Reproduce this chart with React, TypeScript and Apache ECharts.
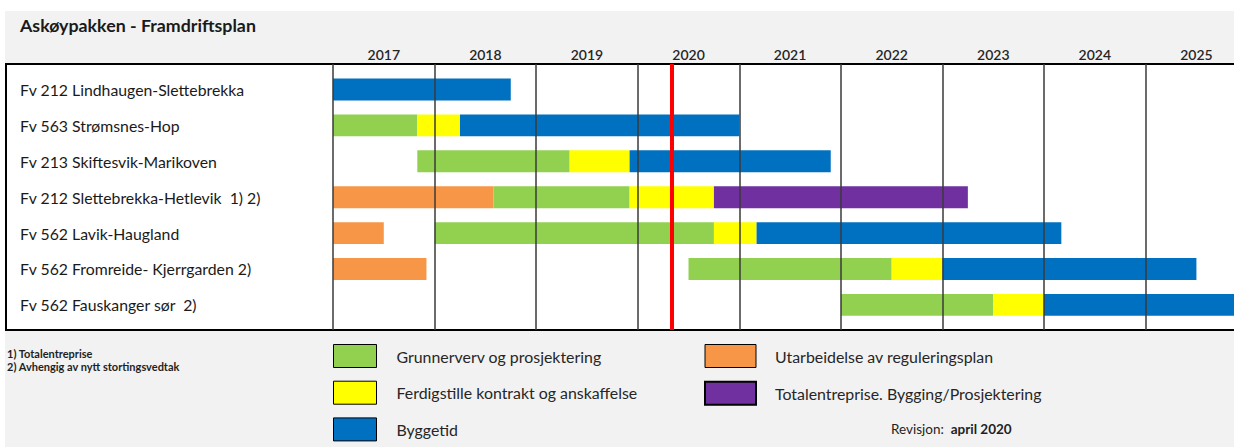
import React, { useEffect, useRef } from "react";
import * as echarts from "echarts";

const years = [2017, 2018, 2019, 2020, 2021, 2022, 2023, 2024, 2025];
const rows = [
  "Fv 212 Lindhaugen-Slettebrekka",
  "Fv 563 Strømsnes-Hop",
  "Fv 213 Skiftesvik-Marikoven",
  "Fv 212 Slettebrekka-Hetlevik  1) 2)",
  "Fv 562 Lavik-Haugland",
  "Fv 562 Fromreide- Kjerrgarden 2)",
  "Fv 562 Fauskanger sør  2)",
];

// [rowIndex, start, end]
const grunnerverv = [
  [1, 2017.0, 2017.83],
  [2, 2017.83, 2019.33],
  [3, 2018.58, 2019.92],
  [4, 2018.0, 2020.75],
  [5, 2020.5, 2022.5],
  [6, 2022.0, 2023.5],
];
const ferdigstille = [
  [1, 2017.83, 2018.25],
  [2, 2019.33, 2019.92],
  [3, 2019.92, 2020.75],
  [4, 2020.75, 2021.17],
  [5, 2022.5, 2023.0],
  [6, 2023.5, 2024.0],
];
const byggetid = [
  [0, 2017.0, 2018.75],
  [1, 2018.25, 2021.0],
  [2, 2019.92, 2021.9],
  [4, 2021.17, 2024.17],
  [5, 2023.0, 2025.5],
  [6, 2024.0, 2026.5],
];
const utarbeidelse = [
  [3, 2017.0, 2018.58],
  [4, 2017.0, 2017.5],
  [5, 2017.0, 2017.92],
];
const totalentreprise = [[3, 2020.75, 2023.25]];

const revisionDate = 2020.33;

const phaseNames = [
  "Grunnerverv og prosjektering",
  "Ferdigstille kontrakt og anskaffelse",
  "Byggetid",
  "Utarbeidelse av reguleringsplan",
  "Totalentreprise. Bygging/Prosjektering",
];
const phaseColors = ["#92D050", "#FFFF00", "#0070C0", "#F79646", "#7030A0"];
const phaseData = [grunnerverv, ferdigstille, byggetid, utarbeidelse, totalentreprise];

const FONT = "Lato, 'Liberation Sans', sans-serif";
const BAR_H = 0.61;

export default function App() {
  const ref = useRef<HTMLDivElement>(null);

  useEffect(() => {
    if (!ref.current) return;
    const chart = echarts.init(ref.current, undefined, { renderer: "svg" });

    const barSeries = phaseNames.map((name, k) => ({
      type: "custom",
      name,
      z: 2,
      itemStyle: { color: phaseColors[k] },
      encode: { x: [1, 2], y: 0 },
      data: phaseData[k],
      renderItem: (params: any, api: any) => {
        const row = api.value(0);
        const p0 = api.coord([api.value(1), row]);
        const p1 = api.coord([api.value(2), row]);
        const h = api.size([0, BAR_H])[1];
        return {
          type: "rect",
          shape: { x: p0[0], y: p0[1] - h / 2, width: p1[0] - p0[0], height: h },
          style: { fill: api.visual("color") },
        };
      },
    }));

    const legendBase = {
      orient: "vertical",
      top: 344,
      padding: 0,
      itemHeight: 23,
      itemGap: 12.7,
      icon: "rect",
      selectedMode: false,
      itemStyle: { borderColor: "#000", borderWidth: 1 },
    };

    const option: any = {
      animation: false,
      backgroundColor: "#ffffff",
      grid: { left: 333, right: 0, top: 64, bottom: 117 },
      xAxis: {
        type: "value",
        min: 2017,
        max: 2025.87,
        interval: 1,
        z: 3,
        axisLine: { show: false },
        axisTick: { show: false },
        axisLabel: { show: false },
        splitLine: {
          show: true,
          showMaxLine: false,
          lineStyle: { color: "#3a3a3a", width: 1.5 },
        },
      },
      yAxis: {
        type: "value",
        inverse: true,
        min: -0.71,
        max: 6.7,
        axisLine: { show: false },
        axisTick: { show: false },
        axisLabel: { show: false },
        splitLine: { show: false },
      },
      legend: [
        {
          ...legendBase,
          data: phaseNames.slice(0, 3),
          left: 333,
          itemWidth: 43,
          textStyle: { fontSize: 15.9, color: "#262626", fontFamily: FONT, padding: [0, 0, 0, 15] },
        },
        {
          ...legendBase,
          data: [
            { name: phaseNames[3] },
            { name: phaseNames[4], itemStyle: { borderWidth: 2 } },
          ],
          left: 704,
          itemWidth: 51,
          textStyle: { fontSize: 15.9, color: "#262626", fontFamily: FONT, padding: [0, 0, 0, 14] },
        },
      ],
      graphic: {
        elements: [
          { type: "rect", z: -10, shape: { x: 5, y: 11, width: 1240, height: 440 }, style: { fill: "#f2f2f2" } },
          {
            type: "rect",
            z: -9,
            shape: { x: 6, y: 64, width: 1240, height: 266 },
            style: { fill: "#ffffff", stroke: "#000000", lineWidth: 2 },
          },
          {
            type: "text",
            x: 20,
            y: 25,
            style: {
              text: "Askøypakken - Framdriftsplan",
              fontSize: 17.8,
              fontWeight: "bold",
              fontFamily: FONT,
              fill: "#1a1a1a",
              verticalAlign: "middle",
            },
          },
          {
            type: "text",
            x: 7,
            y: 353,
            style: {
              text: "1) Totalentreprise",
              fontSize: 11,
              fontWeight: "bold",
              fontFamily: FONT,
              fill: "#1f1f1f",
              verticalAlign: "middle",
            },
          },
          {
            type: "text",
            x: 7,
            y: 366,
            style: {
              text: "2) Avhengig av nytt stortingsvedtak",
              fontSize: 11,
              fontWeight: "bold",
              fontFamily: FONT,
              fill: "#1f1f1f",
              verticalAlign: "middle",
            },
          },
          {
            type: "text",
            x: 891,
            y: 429,
            style: {
              text: "{a|Revisjon:  }{b|april 2020}",
              verticalAlign: "middle",
              rich: {
                a: { fontSize: 13.5, fontFamily: FONT, fill: "#1f1f1f", color: "#1f1f1f" },
                b: { fontSize: 13.5, fontFamily: FONT, fontWeight: "bold", fill: "#1f1f1f", color: "#1f1f1f" },
              },
            },
          },
        ],
      },
      series: [
        ...barSeries,
        {
          type: "custom",
          z: 5,
          encode: { x: 0, y: 1 },
          data: years.map((y) => [y, 0]),
          renderItem: (params: any, api: any) => {
            const x = api.coord([api.value(0) + 0.5, 0])[0];
            return {
              type: "text",
              x,
              y: params.coordSys.y - 10,
              style: {
                text: String(api.value(0)),
                fontSize: 14,
                fontWeight: 600,
                fontFamily: FONT,
                fill: "#262626",
                align: "center",
                verticalAlign: "middle",
              },
            };
          },
        },
        {
          type: "custom",
          z: 5,
          encode: { x: 0, y: 1 },
          data: rows.map((_, i) => [2017, i]),
          renderItem: (params: any, api: any) => {
            const y = api.coord([2017, api.value(1)])[1];
            return {
              type: "text",
              x: 20,
              y,
              style: {
                text: rows[params.dataIndex],
                fontSize: 15.8,
                fontFamily: FONT,
                fill: "#1a1a1a",
                align: "left",
                verticalAlign: "middle",
              },
            };
          },
        },
        {
          type: "line",
          z: 6,
          data: [],
          markLine: {
            silent: true,
            symbol: ["none", "none"],
            label: { show: false },
            lineStyle: { color: "#FF0000", width: 4, type: "solid" },
            data: [{ xAxis: revisionDate }],
          },
        },
      ],
    };

    chart.setOption(option);
    return () => chart.dispose();
  }, []);

  return (
    <div
      ref={ref}
      style={{ position: "absolute", left: 0, top: 0, width: 1234, height: 447 }}
    />
  );
}
